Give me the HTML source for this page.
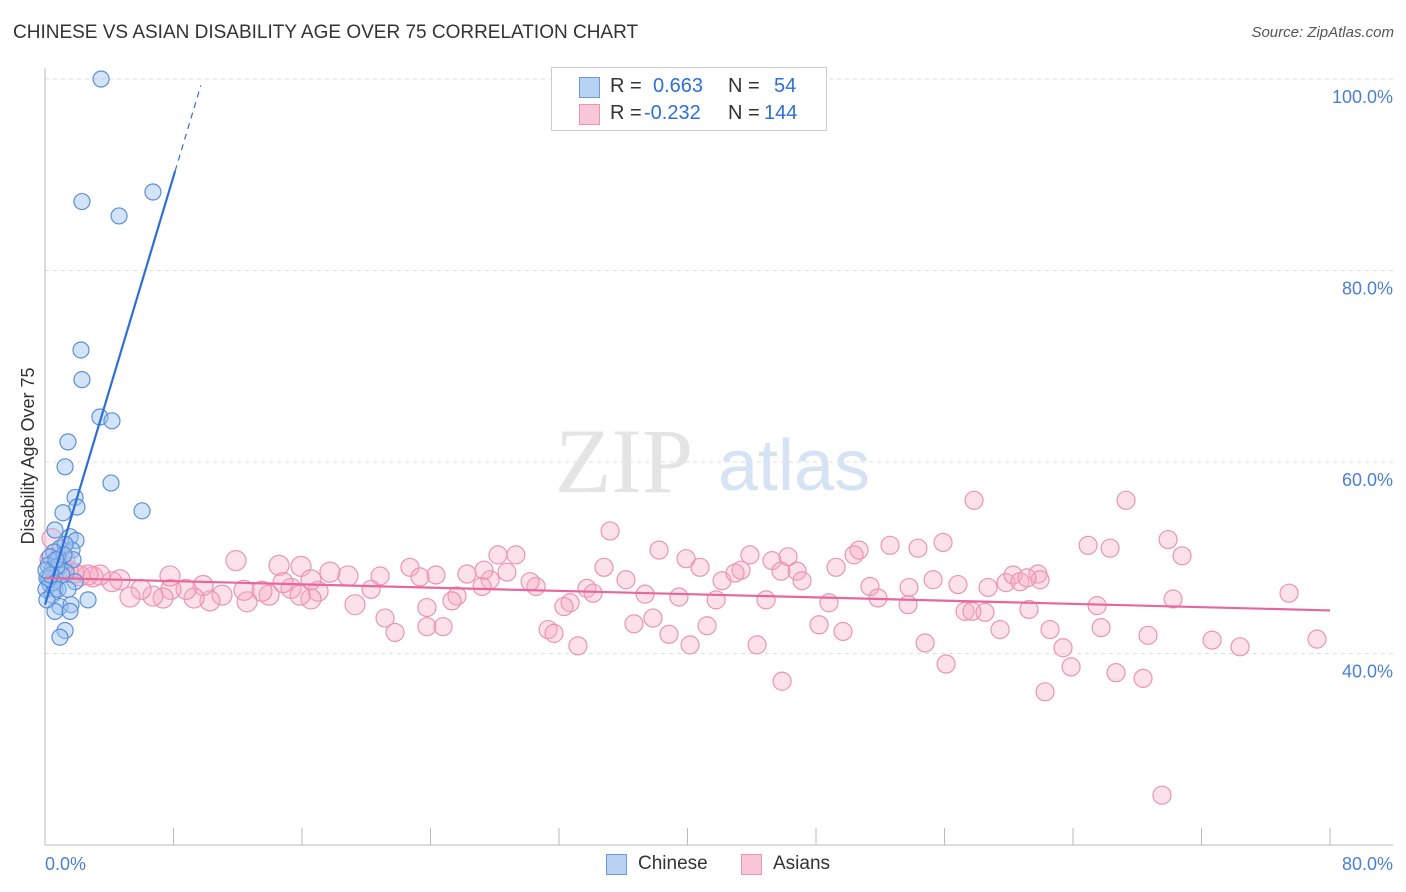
<!DOCTYPE html>
<html><head><meta charset="utf-8">
<style>
body{margin:0;background:#fff;font-family:"Liberation Sans",sans-serif;}
#wrap{position:relative;width:1406px;height:892px;overflow:hidden;}
.t{position:absolute;white-space:nowrap;}
</style></head>
<body>
<div id="wrap">
<div class="t" style="left:13px;top:22px;font-size:19px;color:#333;">CHINESE VS ASIAN DISABILITY AGE OVER 75 CORRELATION CHART</div>
<div class="t" style="right:12px;top:24px;font-size:15px;color:#555;font-style:italic;">Source: ZipAtlas.com</div>
<svg id="svg" width="1406" height="892" style="position:absolute;left:0;top:0;"></svg>
</div>
<script>
const xTicks=[0,8,16,24,32,40,48,56,64,72,80];
const yTicks=[40,60,80,100];
const yTickLabels=["40.0%","60.0%","80.0%","100.0%"];
const chineseX=[3.49,2.30,4.61,6.72,2.24,2.30,3.42,4.17,1.43,1.25,4.11,6.04,1.87,1.99,1.12,0.62,1.56,1.93,0.93,1.68,1.25,0.56,0.31,0.81,1.74,0.19,0.44,0.93,1.31,0.12,0.62,1.06,1.87,0.31,0.06,0.62,0.44,2.68,0.93,1.62,0.62,1.56,1.25,0.93,0.12,0.50,0.75,1.18,0.25,0.37,0.81,1.43,0.06,0.68];
const chineseY=[100,87.2,85.7,88.2,71.7,68.6,64.7,64.3,62.1,59.5,57.8,54.9,56.3,55.3,54.7,52.9,52.2,51.8,51.0,50.8,51.4,50.6,50.1,49.8,49.8,49.2,48.7,49.1,48.5,47.9,47.9,48.2,47.5,47.2,46.7,46.7,46.1,45.6,44.9,45.1,44.4,44.4,42.4,41.7,45.6,47.4,49.1,50.3,47.8,48.2,46.7,46.7,48.7,49.8];
const asianX=[0.44,35.18,57.84,67.30,69.92,64.94,66.31,70.79,55.91,54.35,52.61,50.68,50.37,43.89,38.23,39.91,46.26,45.26,28.20,29.32,22.72,11.89,14.57,15.94,34.80,36.17,40.78,42.15,43.33,42.96,46.82,47.13,49.25,51.36,53.79,55.29,56.84,58.71,59.83,60.27,60.70,61.82,61.95,77.45,70.23,65.50,61.26,57.28,58.52,53.73,51.86,48.81,44.89,41.78,39.47,37.36,33.74,34.12,32.69,32.31,30.57,30.20,28.76,27.71,27.21,26.27,25.65,25.34,23.78,24.34,23.35,20.86,20.30,19.30,18.86,17.74,17.00,16.56,15.32,14.82,13.95,13.51,12.58,12.39,11.02,10.27,9.84,9.28,8.78,7.84,7.35,6.72,5.98,5.29,4.67,4.17,3.42,2.99,2.68,2.18,1.81,1.43,1.06,0.75,0.31,1.25,7.78,21.17,21.79,23.78,24.78,31.32,31.69,33.18,36.67,37.85,38.85,40.16,41.22,44.33,45.89,48.19,49.68,54.79,56.10,59.46,62.57,63.38,63.88,65.75,66.68,68.36,68.67,69.54,72.66,74.40,79.19,62.26,57.71,45.82,61.14,27.33,16.56,15.88];
const asianY=[52.0,52.8,56.0,56.0,51.9,51.3,51.0,50.2,51.6,51.0,51.3,50.8,50.3,50.3,50.8,49.9,50.1,49.7,50.3,50.3,49.0,49.7,49.2,49.1,49.0,47.7,49.0,47.6,48.7,48.4,48.6,47.6,49.0,47.0,46.9,47.7,47.2,46.9,47.4,48.2,47.5,48.3,47.7,46.3,45.7,45.0,44.6,44.4,44.3,45.1,45.8,45.3,45.6,45.6,45.9,46.2,46.8,46.3,45.3,44.9,47.0,47.5,48.5,47.7,47.0,48.3,46.0,45.5,44.8,48.2,48.0,48.1,46.7,45.1,48.1,48.5,46.5,45.7,46.8,47.4,46.1,46.5,45.4,46.6,46.1,45.5,47.1,45.8,46.7,46.7,45.8,46.0,46.7,45.9,47.7,47.5,48.2,48.0,48.2,48.1,48.4,48.7,49.0,49.3,49.8,49.8,48.1,43.7,42.2,42.8,42.8,42.5,42.1,40.8,43.1,43.7,42.0,40.9,42.9,40.9,37.1,43.0,42.3,41.1,38.9,42.5,42.5,40.6,38.6,42.7,38.0,37.4,41.9,25.2,41.4,40.7,41.5,36.0,44.4,48.6,47.9,48.7,47.7,46.1];
const blueFit=[45.1,5.59]; // intercept, slope
const pinkFit=[47.9,-0.0425];

const NS="http://www.w3.org/2000/svg";
const svg=document.getElementById('svg');
const X=v=>45+v/80*1285;
const Y=v=>79+(100-v)/80*766;
function mk(tag,attrs,parent){const e=document.createElementNS(NS,tag);for(const k in attrs)e.setAttribute(k,attrs[k]);(parent||svg).appendChild(e);return e;}

// gridlines
yTicks.forEach((t,i)=>{
  const g=mk('line',{x1:45,x2:1393,y1:Y(t),y2:Y(t),stroke:'#ddd','stroke-dasharray':'4,4'});
  
  
  const l=mk('text',{x:1393,y:Y(t)+24,'text-anchor':'end','font-size':18,fill:'#4a7fd4','font-family':'Liberation Sans, sans-serif'});
  l.textContent=yTickLabels[i];
  
  
});
// axes
const ax=mk('line',{x1:45,x2:1393,y1:845,y2:845,stroke:'#bbb'});


const ay=mk('line',{x1:45,x2:45,y1:68,y2:845,stroke:'#bbb'});


xTicks.forEach(t=>{
  const k=mk('line',{x1:X(t),x2:X(t),y1:828,y2:845,stroke:'#bbb'});
  
  
});
const xl0=mk('text',{x:45,y:870,'font-size':18,fill:'#4a7fd4','font-family':'Liberation Sans, sans-serif'});xl0.textContent='0.0%';


const xl1=mk('text',{x:1393,y:870,'text-anchor':'end','font-size':18,fill:'#4a7fd4','font-family':'Liberation Sans, sans-serif'});xl1.textContent='80.0%';


const yt=mk('text',{x:34,y:456,'text-anchor':'middle','font-size':18,fill:'#333',transform:'rotate(-90 34 456)','font-family':'Liberation Sans, sans-serif'});yt.textContent='Disability Age Over 75';


// watermark
const wm=mk('text',{x:555,y:492,'font-size':92,fill:'#e4e4e4','font-family':'Liberation Serif, serif'});wm.textContent='ZIP';


const wm2=mk('text',{x:718,y:490,'font-size':72,fill:'#d5e3f5','font-family':'Liberation Sans, sans-serif'});wm2.textContent='atlas';



// points
asianX.forEach((x,i)=>{
  const r=x<20?10:9;
  const c=mk('circle',{cx:X(x),cy:Y(asianY[i]),r:r,fill:'rgba(245,170,196,0.35)',stroke:'#eb94b2','stroke-width':1.2});
  
  
});
chineseX.forEach((x,i)=>{
  const c=mk('circle',{cx:X(x),cy:Y(chineseY[i]),r:8,fill:'rgba(160,196,240,0.45)',stroke:'#5b8fd8','stroke-width':1.2});
  
  
});
// trend lines
const bx1=8.1,bx2=9.7;
const bl=mk('line',{x1:X(0),y1:Y(blueFit[0]),x2:X(bx1),y2:Y(blueFit[0]+blueFit[1]*bx1),stroke:'#2d6fd6','stroke-width':2.2});


const bd=mk('line',{x1:X(bx1),y1:Y(blueFit[0]+blueFit[1]*bx1),x2:X(bx2),y2:Y(blueFit[0]+blueFit[1]*bx2),stroke:'#2d6fd6','stroke-width':1.2,'stroke-dasharray':'6,5'});


const pl=mk('line',{x1:X(0),y1:Y(pinkFit[0]),x2:X(80),y2:Y(pinkFit[0]+pinkFit[1]*80),stroke:'#e6689a','stroke-width':2.2});


</script>
<div class="t" style="left:551px;top:67px;width:274px;height:62px;border:1px solid #ccc;background:#fff;font-size:20px;">
  <div style="position:absolute;left:27px;top:9px;width:19px;height:19px;background:#b8d2f3;border:1px solid #6a9ade;"></div>
  <div class="t" style="left:58px;top:7px;color:#333;">R =</div>
  <div class="t" style="left:101px;top:7px;color:#2d6fd6;">0.663</div>
  <div class="t" style="left:176px;top:7px;color:#333;">N =</div>
  <div class="t" style="left:222px;top:7px;color:#2d6fd6;">54</div>
  <div style="position:absolute;left:27px;top:36px;width:19px;height:19px;background:#f8c6d6;border:1px solid #eb94b2;"></div>
  <div class="t" style="left:58px;top:34px;color:#333;">R =</div>
  <div class="t" style="left:92px;top:34px;color:#2d6fd6;">-0.232</div>
  <div class="t" style="left:176px;top:34px;color:#333;">N =</div>
  <div class="t" style="left:212px;top:34px;color:#2d6fd6;">144</div>
</div>
<div>
  <div style="position:absolute;left:606px;top:854px;width:19px;height:19px;background:#b8d2f3;border:1px solid #6a9ade;"></div>
  <div class="t" style="left:638px;top:853px;font-size:19px;color:#333;">Chinese</div>
</div>
<div>
  <div style="position:absolute;left:741px;top:854px;width:19px;height:19px;background:#f8c6d6;border:1px solid #eb94b2;"></div>
  <div class="t" style="left:773px;top:853px;font-size:19px;color:#333;">Asians</div>
</div>
</body></html>
